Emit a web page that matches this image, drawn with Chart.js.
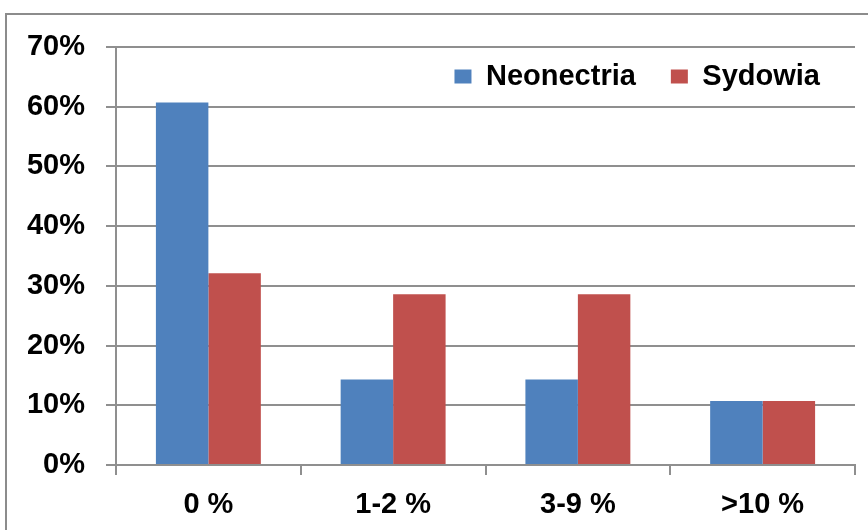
<!DOCTYPE html>
<html>
<head>
<meta charset="utf-8">
<script src="https://cdn.jsdelivr.net/npm/chart.js@4"></script>
<style>
  html, body { margin: 0; padding: 0; background: #fff; }
  #wrap { width: 868px; height: 530px; }
</style>
</head>
<body>
<div id="wrap"><canvas id="chart" width="868" height="530"></canvas></div>
<script>
const categories = ["0 %", "1-2 %", "3-9 %", ">10 %"];
const neonectria = [60.7, 14.3, 14.3, 10.7];
const sydowia = [32.1, 28.6, 28.6, 10.7];
const yTicks = ["0%", "10%", "20%", "30%", "40%", "50%", "60%", "70%"];

const font = { family: "'Liberation Sans', Arial, sans-serif", weight: "bold", size: 29 };
const lineColor = "#8f8f8f";

// outer frame of the chart object (cropped at right and bottom)
const framePlugin = {
    id: "frame",
    beforeDraw(chart) {
        const ctx = chart.ctx;
        ctx.save();
        ctx.strokeStyle = "#8c8c8c";
        ctx.lineWidth = 2;
        ctx.beginPath();
        ctx.moveTo(6, 530);
        ctx.lineTo(6, 14);
        ctx.lineTo(868, 14);
        ctx.stroke();
        ctx.restore();
    }
};

// the legend sits inside the plot area, so move it after layout
const legendPlace = {
    id: "legendPlace",
    afterLayout(chart) {
        const lg = chart.legend;
        lg.top = 27;
        lg.height = 90;
        lg.bottom = lg.top + lg.height;
    }
};

const ctx = document.getElementById("chart").getContext("2d");
new Chart(ctx, {
    type: "bar",
    data: {
        labels: categories,
        datasets: [
            {
                label: "Neonectria",
                data: neonectria,
                backgroundColor: "#4F81BD"
            },
            {
                label: "Sydowia",
                data: sydowia,
                backgroundColor: "#C0504D"
            }
        ]
    },
    options: {
        responsive: false,
        animation: false,
        layout: { padding: { top: 46, right: 13, left: 0, bottom: 0 } },
        datasets: {
            bar: { categoryPercentage: 0.568, barPercentage: 1.0 }
        },
        plugins: {
            tooltip: { enabled: false },
            legend: {
                position: "top",
                align: "end",
                maxHeight: 1,
                labels: {
                    font: font,
                    color: "#000",
                    boxWidth: 17,
                    boxHeight: 14,
                    padding: 35
                }
            }
        },
        scales: {
            x: {
                grid: {
                    drawOnChartArea: false,
                    color: lineColor,
                    lineWidth: 2,
                    tickLength: 10
                },
                border: { color: lineColor, width: 2 },
                ticks: { font: font, color: "#000", padding: 13 },
                afterFit(scale) { scale.height = 65; }
            },
            y: {
                min: 0,
                max: 70,
                grid: { color: lineColor, lineWidth: 2, tickLength: 10 },
                border: { color: lineColor, width: 2 },
                ticks: {
                    stepSize: 10,
                    font: font,
                    color: "#000",
                    padding: 21,
                    callback: (v) => yTicks[Math.round(v / 10)]
                },
                afterFit(scale) { scale.width = 116; }
            }
        }
    },
    plugins: [framePlugin, legendPlace]
});
</script>
</body>
</html>
